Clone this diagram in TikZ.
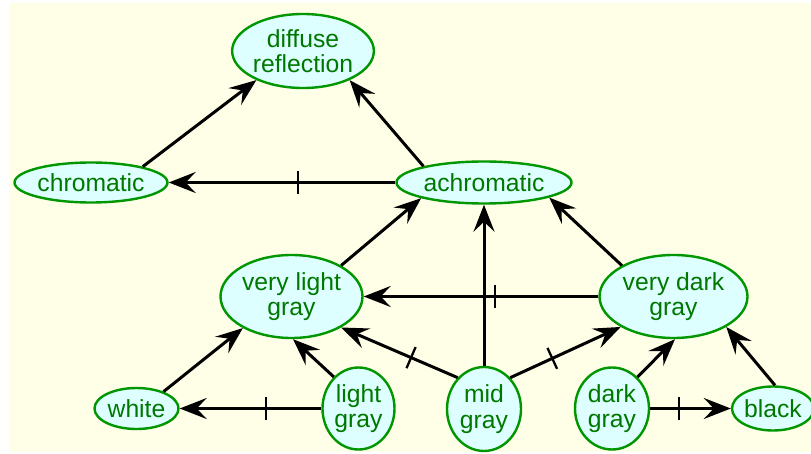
\documentclass[tikz,border=0pt]{standalone}
\usepackage{fontspec}
\setmainfont{Liberation Sans}
\usetikzlibrary{shapes.geometric,arrows.meta,decorations.markings}
\definecolor{bgyellow}{RGB}{255,255,232}
\definecolor{fillcyan}{RGB}{221,255,255}
\definecolor{bordergreen}{RGB}{0,150,0}
\definecolor{textgreen}{RGB}{0,120,0}
\tikzset{
  nd/.style={ellipse, draw=bordergreen, fill=fillcyan, line width=2.4pt,
    text=textgreen, inner sep=0pt, align=center,
    font=\fontsize{24.7}{25.5}\selectfont},
  edge/.style={line width=3pt, -{Stealth[length=27pt,width=21pt,inset=10pt]}},
  tickat/.style={postaction={decorate},
    decoration={markings, mark=at position #1 with {\draw[-, line width=2.3pt] (0,-11.5pt) -- (0,11.5pt);}}}
}
\begin{document}
\begin{tikzpicture}[x=1pt,y=-1pt]
\useasboundingbox (0,0) rectangle (811,454);
\fill[bgyellow] (9,3) rectangle (811,452);
\node[nd, minimum width=140, minimum height=74] (diff) at (303,51) {diffuse\\reflection};
\node[nd, minimum width=153, minimum height=40] (chrom) at (91,182.5) {chromatic};
\node[nd, minimum width=175, minimum height=42] (achrom) at (484,182.5) {achromatic};
\node[nd, minimum width=142, minimum height=83] (vlg) at (291.5,296.5) {very light\\gray};
\node[nd, minimum width=148, minimum height=83] (vdg) at (673.5,296.5) {very dark\\gray};
\node[nd, minimum width=84, minimum height=41] (white) at (136.5,408.5) {white};
\node[nd, minimum width=72, minimum height=82] (lg) at (358.5,408.5) {light\\gray};
\node[nd, minimum width=74, minimum height=84] (mg) at (484,409) {mid\\gray};
\node[nd, minimum width=74, minimum height=82] (dg) at (612,408.5) {dark\\gray};
\node[nd, minimum width=82, minimum height=44] (black) at (773,408.5) {black};

\draw[edge] (chrom.17) -- (diff.212);
\draw[edge] (achrom.165) -- (diff.328);
\draw[edge, tickat=0.43] (achrom) -- (chrom);
\draw[edge] (vlg.32) -- (achrom.194);
\draw[edge] (mg) -- (achrom);
\draw[edge] (vdg.149) -- (achrom.347);
\draw[edge, tickat=0.44] (vdg) -- (vlg);
\draw[edge] (white.32) -- (vlg.213);
\draw[edge] (lg.128) -- (vlg.272);
\draw[edge, tickat=0.40] (mg.130) -- (vlg.328);
\draw[edge, tickat=0.38] (mg.50) -- (vdg.210);
\draw[edge, tickat=0.39] (lg) -- (white);
\draw[edge] (dg.51) -- (vdg.272);
\draw[edge] (black.85) -- (vdg.330);
\draw[edge, tickat=0.36] (dg) -- (black);
\end{tikzpicture}
\end{document}
